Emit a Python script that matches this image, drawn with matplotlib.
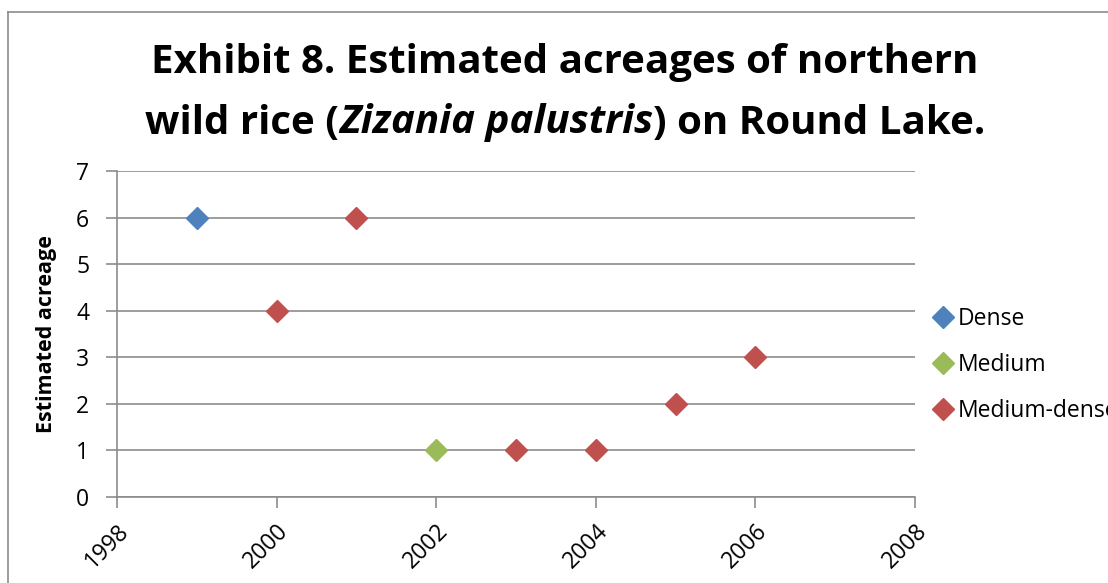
import matplotlib
matplotlib.use("Agg")
import matplotlib.pyplot as plt
from matplotlib.lines import Line2D

W, H = 1108, 583
dense_x = [1999]
dense_y = [6]
medium_x = [2002]
medium_y = [1]
mdense_x = [2000, 2001, 2003, 2004, 2005, 2006]
mdense_y = [4, 6, 1, 1, 2, 3]
xticks = [1998, 2000, 2002, 2004, 2006, 2008]
yticks = [0, 1, 2, 3, 4, 5, 6, 7]

plt.rcParams['font.family'] = ['Open Sans', 'DejaVu Sans']

fig = plt.figure(figsize=(W / 100, H / 100), dpi=100)
ax = fig.add_axes([117 / W, 1 - 497 / H, (915 - 117) / W, (497 - 171) / H])

ms = 11
ax.plot(dense_x, dense_y, 'D', color='#4F81BD', ms=ms, mec='#4F81BD', label='Dense', zorder=3)
ax.plot(medium_x, medium_y, 'D', color='#9BBB59', ms=ms, mec='#9BBB59', label='Medium', zorder=3)
ax.plot(mdense_x, mdense_y, 'D', color='#C0504D', ms=ms, mec='#C0504D', label='Medium-dense', zorder=3)

ax.set_xlim(1998, 2008)
ax.set_ylim(0, 7)
ax.set_xticks(xticks)
ax.set_yticks(yticks)
ax.set_xticklabels([str(v) for v in xticks], rotation=45, ha='right', rotation_mode='anchor', fontsize=16.5)
ax.set_yticklabels([str(v) for v in yticks], fontsize=16.5)
ax.grid(axis='y', color='#8C8C8C', lw=1.2)
ax.set_axisbelow(True)
for s in ['top', 'right']:
    ax.spines[s].set_visible(False)
for s in ['left', 'bottom']:
    ax.spines[s].set_color('#8C8C8C')
    ax.spines[s].set_linewidth(1.2)
ax.tick_params(axis='both', direction='out', length=8, width=1.2, color='#8C8C8C')
ax.tick_params(axis='y', pad=12)
ax.tick_params(axis='x', pad=8)

ax.set_ylabel('Estimated acreage', fontsize=15.5, fontweight='bold', labelpad=14)

leg = ax.legend(loc='center left', bbox_to_anchor=(1.0, 0.405), frameon=False, fontsize=16.5,
                handletextpad=0.05, labelspacing=0.95, handlelength=1.2, borderaxespad=0.2)

# Title
fs = 29
fig.text(565 / W, 1 - 63 / H, 'Exhibit 8. Estimated acreages of northern',
         ha='center', va='center', fontsize=fs, fontweight='bold')
parts = [('wild rice (', 'normal'), ('Zizania palustris', 'italic'), (') on Round Lake.', 'normal')]
texts = []
for s, st in parts:
    texts.append(fig.text(0, 1 - 123 / H, s, ha='left', va='center', fontsize=fs,
                          fontweight='bold', fontstyle=st))
fig.canvas.draw()
r = fig.canvas.get_renderer()
widths = [t.get_window_extent(r).width for t in texts]
total = sum(widths)
x = 565 - total / 2
for t, w in zip(texts, widths):
    t.set_x(x / W)
    x += w

fig.add_artist(Line2D([8 / W, 8 / W], [0, 1 - 12 / H], transform=fig.transFigure, color='#8C8C8C', lw=1.2))
fig.add_artist(Line2D([8 / W, 1], [1 - 12 / H, 1 - 12 / H], transform=fig.transFigure, color='#8C8C8C', lw=1.2))

fig.savefig('out.png', dpi=100)
